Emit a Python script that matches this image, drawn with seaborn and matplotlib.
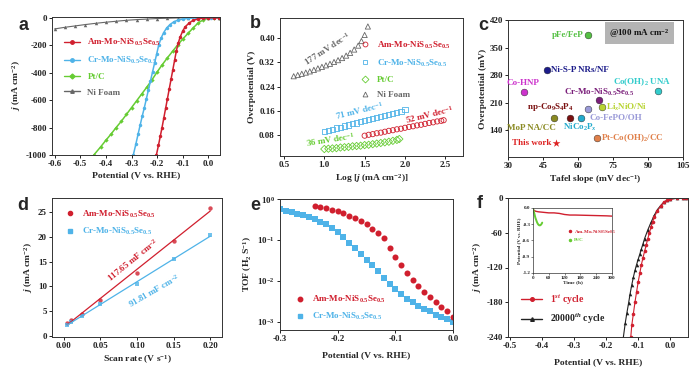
import numpy as np
import pandas as pd
import matplotlib
matplotlib.use("Agg")
import matplotlib.pyplot as plt
import seaborn as sns
from matplotlib.lines import Line2D

# ---------------- data ----------------
# panel a : polarization curves
a_am_v = [0.04, 0.02, 0.0, -0.02, -0.04, -0.06, -0.075, -0.09, -0.10, -0.11, -0.118, -0.125, -0.132, -0.139,
          -0.146, -0.153, -0.160, -0.167, -0.174, -0.181, -0.188, -0.195, -0.203]
a_am_j = [0, -0.5, -1, -3, -8, -20, -38, -65, -95, -140, -185, -240, -310, -380, -450, -520, -590, -660,
          -730, -800, -865, -930, -1000]
a_cr_v = [0.04, 0.01, -0.02, -0.05, -0.08, -0.10, -0.12, -0.135, -0.15, -0.163, -0.175, -0.185, -0.194,
          -0.202, -0.21, -0.218, -0.226, -0.234, -0.242, -0.25, -0.258, -0.266, -0.274, -0.283, -0.293]
a_cr_j = [0, 0, -1, -2, -5, -10, -18, -30, -50, -75, -110, -150, -200, -265, -330, -395, -460, -525, -590,
          -655, -715, -780, -845, -920, -1000]
a_pt_v = [0.04, 0.02, 0.0, -0.02, -0.04, -0.06, -0.08, -0.10, -0.12, -0.14, -0.16, -0.18, -0.20, -0.22,
          -0.24, -0.26, -0.28, -0.30, -0.32, -0.34, -0.36, -0.38, -0.40, -0.42, -0.447]
a_pt_j = [0, -1, -4, -15, -38, -75, -115, -155, -198, -245, -292, -342, -395, -452, -505, -555, -605, -655,
          -705, -755, -800, -848, -893, -940, -1000]
a_ni_v = [-0.6, -0.56, -0.52, -0.48, -0.44, -0.40, -0.36, -0.32, -0.28, -0.24, -0.20, -0.16, -0.12, -0.08,
          -0.04, 0.0, 0.04]
a_ni_j = [-82, -70, -60, -50, -41, -33, -26, -19, -14, -10, -6, -4, -2, -1, 0, 0, 0]

# panel b : Tafel plots
b_ni_x = [0.62, 0.67, 0.72, 0.77, 0.82, 0.87, 0.92, 0.97, 1.02, 1.07, 1.12, 1.17, 1.22, 1.27, 1.32, 1.37,
          1.42, 1.46, 1.50, 1.54]
b_ni_y = [0.274, 0.278, 0.282, 0.286, 0.290, 0.295, 0.300, 0.305, 0.310, 0.315, 0.321, 0.327, 0.334, 0.342,
          0.351, 0.362, 0.375, 0.390, 0.410, 0.438]
b_cr_x = [1.00, 1.05, 1.10, 1.15, 1.20, 1.25, 1.30, 1.35, 1.40, 1.45, 1.50, 1.55, 1.60, 1.65, 1.70, 1.75,
          1.80, 1.85, 1.90, 1.95, 2.00]
b_cr_y = [0.092, 0.096, 0.099, 0.103, 0.106, 0.110, 0.113, 0.117, 0.120, 0.124, 0.127, 0.131, 0.134, 0.138,
          0.141, 0.145, 0.148, 0.152, 0.155, 0.159, 0.163]
b_am_x = [1.50, 1.55, 1.60, 1.65, 1.70, 1.75, 1.80, 1.85, 1.90, 1.95, 2.00, 2.05, 2.10, 2.15, 2.20, 2.25,
          2.30, 2.35, 2.40, 2.45, 2.48]
b_am_y = [0.078, 0.081, 0.083, 0.086, 0.088, 0.091, 0.094, 0.096, 0.099, 0.101, 0.104, 0.107, 0.109, 0.112,
          0.114, 0.117, 0.120, 0.122, 0.125, 0.127, 0.129]
b_pt_x = [1.00, 1.05, 1.10, 1.15, 1.20, 1.25, 1.30, 1.35, 1.40, 1.45, 1.50, 1.55, 1.60, 1.65, 1.70, 1.75,
          1.80, 1.85, 1.90, 1.93]
b_pt_y = [0.034, 0.035, 0.036, 0.037, 0.039, 0.040, 0.041, 0.043, 0.044, 0.045, 0.047, 0.048, 0.050, 0.052,
          0.054, 0.056, 0.058, 0.061, 0.064, 0.067]

# panel c : comparison
c_names = ["pFe/FeP", "Ni-S-P NRs/NF", "Co-HNP", "Co(OH)$_2$ UNA", "Cr-Mo-NiS$_{0.5}$Se$_{0.5}$",
           "Li$_x$NiO/Ni", "Co-FePO/OH", "np-Co$_9$S$_4$P$_4$", "NiCo$_2$P$_x$", "MoP NA/CC",
           "Pt-Co(OH)$_2$/CC", "This work"]
c_tafel = [64.1, 46.5, 36.9, 94.2, 69.1, 70.2, 64.1, 56.4, 61.3, 49.7, 68.1, 50.5]
c_eta = [382, 293, 238, 240, 216, 198, 193, 172, 171, 171, 121, 108]
c_colors = ["#55c044", "#1c1c8a", "#cc33cc", "#33cccc", "#7a1f7a", "#b8d432", "#9a9ad8", "#7a1010",
            "#22aacc", "#8a8a22", "#e0804a", "#dd2222"]

# panel d : double-layer capacitance
d_rate = [0.005, 0.01, 0.025, 0.05, 0.10, 0.15, 0.20]
d_am = [2.7, 3.2, 4.5, 7.3, 12.7, 19.2, 25.7]
d_cr = [2.3, 2.8, 4.1, 6.4, 10.4, 15.6, 20.3]

# panel e : TOF
e_am_v = [-0.24, -0.23, -0.22, -0.21, -0.20, -0.19, -0.18, -0.17, -0.16, -0.15, -0.14, -0.13, -0.12, -0.11,
          -0.10, -0.09, -0.08, -0.07, -0.06, -0.05, -0.04, -0.03, -0.02, -0.01, 0.00]
e_am_tof = [0.68, 0.64, 0.60, 0.55, 0.50, 0.45, 0.39, 0.34, 0.29, 0.24, 0.19, 0.15, 0.11, 0.065, 0.038,
            0.024, 0.016, 0.0105, 0.0075, 0.0055, 0.0040, 0.0030, 0.0023, 0.0018, 0.0013]
e_cr_v = [-0.30, -0.29, -0.28, -0.27, -0.26, -0.25, -0.24, -0.23, -0.22, -0.21, -0.20, -0.19, -0.18, -0.17,
          -0.16, -0.15, -0.14, -0.13, -0.12, -0.11, -0.10, -0.09, -0.08, -0.07, -0.06, -0.05, -0.04, -0.03,
          -0.02, -0.01, 0.00]
e_cr_tof = [0.56, 0.52, 0.48, 0.44, 0.40, 0.36, 0.32, 0.28, 0.24, 0.20, 0.155, 0.115, 0.085, 0.062, 0.045,
            0.033, 0.024, 0.017, 0.012, 0.0085, 0.0062, 0.0047, 0.0037, 0.0030, 0.0025, 0.0021, 0.0018,
            0.0015, 0.0013, 0.00115, 0.00100]

# panel f : stability
f_1st_v = [0.05, 0.04, 0.02, 0.0, -0.01, -0.02, -0.03, -0.04, -0.05, -0.055, -0.06, -0.065, -0.07, -0.075,
           -0.08, -0.085, -0.09, -0.095, -0.10, -0.105, -0.11, -0.115, -0.12, -0.123]
f_1st_j = [0, 0, -0.5, -2, -4, -7, -14, -22, -33, -41, -50, -60, -70, -81, -92, -103, -115, -130, -145,
           -162, -180, -200, -220, -240]
f_20k_v = [0.05, 0.04, 0.02, 0.0, -0.01, -0.02, -0.03, -0.04, -0.05, -0.06, -0.07, -0.08, -0.085, -0.09,
           -0.095, -0.10, -0.105, -0.11, -0.115, -0.12, -0.125, -0.13, -0.135, -0.14, -0.146]
f_20k_j = [0, 0, -0.5, -2, -4, -7, -13, -20, -30, -42, -55, -70, -79, -88, -97, -106, -115, -125, -137,
           -150, -165, -182, -198, -215, -240]
fi_am_t = [0, 10, 20, 40, 60, 80, 100, 120, 140, 160, 200, 240, 280, 300]
fi_am_p = [-0.03, -0.06, -0.07, -0.08, -0.09, -0.09, -0.10, -0.12, -0.13, -0.13, -0.135, -0.14, -0.145, -0.15]
fi_pt_t = [0, 3, 6, 9, 12, 15, 18, 21, 24, 27, 30, 33, 35]
fi_pt_p = [-0.02, -0.06, -0.12, -0.18, -0.22, -0.26, -0.29, -0.31, -0.32, -0.32, -0.31, -0.29, -0.27]

RED = "#d01f2e"
BLUE = "#4fb3e8"
GREEN = "#66cc33"
GRAY = "#666666"

# ---------------- style ----------------
sns.set_theme(style="ticks")
plt.rcParams.update({
    "font.family": ["Liberation Serif", "DejaVu Serif"],
    "font.weight": "bold",
    "axes.labelweight": "bold",
    "font.size": 6.5,
    "mathtext.fontset": "custom",
    "mathtext.rm": "Liberation Serif:bold",
    "mathtext.it": "Liberation Serif:italic:bold",
    "mathtext.bf": "Liberation Serif:bold",
    "xtick.labelsize": 6.5,
    "ytick.labelsize": 6.5,
    "axes.labelsize": 6.8,
    "axes.linewidth": 0.7,
    "axes.edgecolor": "#333333",
    "xtick.major.size": 2.2,
    "ytick.major.size": 2.2,
    "xtick.major.width": 0.7,
    "ytick.major.width": 0.7,
    "xtick.major.pad": 1.5,
    "ytick.major.pad": 1.5,
    "xtick.color": "#222222",
    "ytick.color": "#222222",
    "axes.labelpad": 2,
    "axes.unicode_minus": False,
    "legend.fontsize": 6.5,
})

W, H = 692, 371
fig = plt.figure(figsize=(W / 100, H / 100), dpi=100)
fig.patch.set_facecolor("white")


def axpx(l, t, r, b):
    return fig.add_axes([l / W, 1 - b / H, (r - l) / W, (b - t) / H])


def letter(x, y, s):
    fig.text(x / W, 1 - y / H, s, fontfamily="Liberation Sans", fontweight="bold", fontsize=13,
             ha="center", va="center")


def line(ax, x, y, color, marker, ms=2.5, lw=1.0):
    sns.lineplot(x=x, y=y, ax=ax, color=color, marker=marker, markersize=ms, markeredgewidth=0,
                 linewidth=lw, sort=False, estimator=None)


# ---------------- panel a ----------------
ax = axpx(52, 17, 220, 155)
line(ax, a_ni_v, a_ni_j, GRAY, "^", ms=2.5, lw=0.8)
line(ax, a_pt_v, a_pt_j, GREEN, "D", ms=2.2, lw=1.1)
line(ax, a_cr_v, a_cr_j, BLUE, "o", ms=2.5, lw=1.1)
line(ax, a_am_v, a_am_j, RED, "o", ms=2.5, lw=1.1)
ax.set_xlim(-0.61, 0.045)
ax.set_ylim(-1000, 5)
ax.set_xticks([-0.6, -0.5, -0.4, -0.3, -0.2, -0.1, 0.0])
ax.set_xticklabels(["-0.6", "-0.5", "-0.4", "-0.3", "-0.2", "-0.1", "0.0"])
ax.set_yticks([0, -200, -400, -600, -800, -1000])
ax.set_xlabel("Potential (V vs. RHE)")
ax.set_ylabel("$\\mathit{j}$ (mA cm$^{-2}$)")
hs = [Line2D([], [], color=c, marker=m, ms=2.5, lw=1.0) for c, m in
      [(RED, "o"), (BLUE, "o"), (GREEN, "D"), (GRAY, "^")]]
ax.legend(hs, ["Am-Mo-NiS$_{0.5}$Se$_{0.5}$", "Cr-Mo-NiS$_{0.5}$Se$_{0.5}$", "Pt/C", "Ni Foam"],
          loc="upper left", bbox_to_anchor=(0.05, 0.88), frameon=False, handlelength=1.8,
          labelspacing=0.75, labelcolor=[RED, BLUE, GREEN, GRAY], borderaxespad=0)
letter(24, 25, "a")

# ---------------- panel b ----------------
ax = axpx(280, 18, 463, 156)
sc = dict(s=14, linewidth=0.6)
sns.scatterplot(x=b_ni_x, y=b_ni_y, ax=ax, marker="^", fc="none", ec=GRAY, **sc)
sns.scatterplot(x=b_cr_x, y=b_cr_y, ax=ax, marker="s", fc="none", ec=BLUE, **sc)
sns.scatterplot(x=b_am_x, y=b_am_y, ax=ax, marker="o", fc="none", ec=RED, **sc)
sns.scatterplot(x=b_pt_x, y=b_pt_y, ax=ax, marker="D", fc="none", ec=GREEN, **sc)
ax.set_xlim(0.45, 2.72)
ax.set_ylim(0.011, 0.466)
ax.set_xticks([0.5, 1.0, 1.5, 2.0, 2.5])
ax.set_yticks([0.08, 0.16, 0.24, 0.32, 0.40])
ax.set_yticklabels(["0.08", "0.16", "0.24", "0.32", "0.40"])
ax.set_xlabel("Log [$\\mathit{j}$ (mA cm$^{-2}$)]")
ax.set_ylabel("Overpotential (V)")
ax.text(1.04, 0.366, "177 mV dec$^{-1}$", color=GRAY, rotation=33, ha="center", va="center", fontsize=6.5)
ax.text(1.44, 0.160, "71 mV dec$^{-1}$", color=BLUE, rotation=14, ha="center", va="center", fontsize=6.5)
ax.text(2.31, 0.147, "52 mV dec$^{-1}$", color=RED, rotation=14, ha="center", va="center", fontsize=6.5)
ax.text(1.08, 0.064, "36 mV dec$^{-1}$", color=GREEN, rotation=9, ha="center", va="center", fontsize=6.5)
hs = [Line2D([], [], ls="", marker=m, mfc="none", mec=c, ms=3.5, mew=0.6) for c, m in
      [(RED, "o"), (BLUE, "s"), (GREEN, "D"), (GRAY, "^")]]
ax.legend(hs, ["Am-Mo-NiS$_{0.5}$Se$_{0.5}$", "Cr-Mo-NiS$_{0.5}$Se$_{0.5}$", "Pt/C", "Ni Foam"],
          loc="upper left", bbox_to_anchor=(0.42, 0.87), frameon=False, handlelength=1.0,
          labelspacing=0.75, labelcolor=[RED, BLUE, GREEN, GRAY], borderaxespad=0)
letter(255, 23, "b")

# ---------------- panel c ----------------
ax = axpx(508, 20, 683, 157)
for i, (n, xv, yv, col) in enumerate(zip(c_names, c_tafel, c_eta, c_colors)):
    if n == "This work":
        sns.scatterplot(x=[xv], y=[yv], ax=ax, marker="*", s=35, color=col, linewidth=0)
    else:
        sns.scatterplot(x=[xv], y=[yv], ax=ax, marker="o", s=24, color=col, ec="#222222", linewidth=0.3)
lab_pos = {
    "pFe/FeP": (62.5, 382, "right"),
    "Ni-S-P NRs/NF": (48.5, 293, "left"),
    "Co-HNP": (36.2, 260, "center"),
    "Co(OH)$_2$ UNA": (87.5, 261, "center"),
    "Cr-Mo-NiS$_{0.5}$Se$_{0.5}$": (69.0, 236, "center"),
    "Li$_x$NiO/Ni": (72.0, 198, "left"),
    "Co-FePO/OH": (65.0, 172, "left"),
    "np-Co$_9$S$_4$P$_4$": (48.0, 199, "center"),
    "NiCo$_2$P$_x$": (61.0, 146, "center"),
    "MoP NA/CC": (40.0, 146, "center"),
    "Pt-Co(OH)$_2$/CC": (70.0, 121, "left"),
    "This work": (48.8, 108, "right"),
}
for n, col in zip(c_names, c_colors):
    xv, yv, ha = lab_pos[n]
    ax.text(xv, yv, n, color=col, ha=ha, va="center", fontsize=6.5)
ax.text(0.75, 0.905, "@100 mA cm$^{-2}$", transform=ax.transAxes, ha="center", va="center", fontsize=6.5,
        color="#111111", bbox=dict(boxstyle="square,pad=0.45", fc="#b4b4b4", ec="none"))
ax.set_xlim(30, 105)
ax.set_ylim(72, 420)
ax.set_xticks([30, 45, 60, 75, 90, 105])
ax.set_yticks([140, 210, 280, 350, 420])
ax.set_xlabel("Tafel slope (mV dec$^{-1}$)")
ax.set_ylabel("Overpotential (mV)")
letter(483, 25, "c")

# ---------------- panel d ----------------
ax = axpx(52, 198, 222, 337)
sns.regplot(x=d_rate, y=d_am, ax=ax, ci=None, color=RED, scatter_kws=dict(s=10, linewidths=0),
            line_kws=dict(lw=0.9))
sns.regplot(x=d_rate, y=d_cr, ax=ax, ci=None, color=BLUE, marker="s",
            scatter_kws=dict(s=9, linewidths=0), line_kws=dict(lw=0.9))
ax.set_xlim(-0.016, 0.216)
ax.set_ylim(-0.2, 27.8)
ax.set_xticks([0.0, 0.05, 0.10, 0.15, 0.20])
ax.set_xticklabels(["0.00", "0.05", "0.10", "0.15", "0.20"])
ax.set_yticks([0, 5, 10, 15, 20, 25])
ax.set_xlabel("Scan rate (V s$^{-1}$)")
ax.set_ylabel("$\\mathit{j}$ (mA cm$^{-2}$)")
ax.text(0.094, 15.3, "117.65 mF cm$^{-2}$", color=RED, rotation=39, ha="center", va="center", fontsize=6.5)
ax.text(0.124, 9.2, "91.81 mF cm$^{-2}$", color=BLUE, rotation=30, ha="center", va="center", fontsize=6.5)
hs = [Line2D([], [], ls="", marker=m, mfc=c, mec=c, ms=3) for c, m in [(RED, "o"), (BLUE, "s")]]
ax.legend(hs, ["Am-Mo-NiS$_{0.5}$Se$_{0.5}$", "Cr-Mo-NiS$_{0.5}$Se$_{0.5}$"], loc="upper left",
          bbox_to_anchor=(0.06, 0.95), frameon=False, handlelength=1.0, labelspacing=0.7,
          labelcolor=[RED, BLUE], borderaxespad=0)
letter(23, 205, "d")

# ---------------- panel e ----------------
ax = axpx(280, 199, 453, 330)
sns.scatterplot(x=e_cr_v, y=e_cr_tof, ax=ax, marker="s", s=15, color=BLUE, linewidth=0)
sns.scatterplot(x=e_am_v, y=e_am_tof, ax=ax, marker="o", s=19, color=RED, linewidth=0)
ax.set_yscale("log")
ax.set_xlim(-0.3, 0.0)
ax.set_ylim(10 ** -3.2, 1.0)
ax.set_xticks([-0.3, -0.2, -0.1, 0.0])
ax.set_xticklabels(["-0.3", "-0.2", "-0.1", "0.0"])
ax.set_yticks([1e-3, 1e-2, 1e-1, 1])
ax.set_yticklabels(["10$^{-3}$", "10$^{-2}$", "10$^{-1}$", "10$^{0}$"])
ax.minorticks_off()
ax.set_xlabel("Potential (V vs. RHE)", labelpad=6)
ax.set_ylabel("TOF (H$_2$ S$^{-1}$)")
hs = [Line2D([], [], ls="", marker=m, mfc=c, mec=c, ms=3.2) for c, m in [(RED, "o"), (BLUE, "s")]]
ax.legend(hs, ["Am-Mo-NiS$_{0.5}$Se$_{0.5}$", "Cr-Mo-NiS$_{0.5}$Se$_{0.5}$"], loc="lower left",
          bbox_to_anchor=(0.07, 0.03), frameon=False, handlelength=1.0, labelspacing=0.7,
          labelcolor=[RED, BLUE], borderaxespad=0)
letter(255, 205, "e")

# ---------------- panel f ----------------
ax = axpx(508, 198, 688, 337)
line(ax, f_20k_v, f_20k_j, "#222222", "^", ms=2.6, lw=0.8)
line(ax, f_1st_v, f_1st_j, RED, "o", ms=2.6, lw=0.8)
ax.set_xlim(-0.505, 0.055)
ax.set_ylim(-240, 0)
ax.set_xticks([-0.5, -0.4, -0.3, -0.2, -0.1, 0.0])
ax.set_xticklabels(["-0.5", "-0.4", "-0.3", "-0.2", "-0.1", "0.0"])
ax.set_yticks([0, -60, -120, -180, -240])
ax.set_xlabel("Potential (V vs. RHE)", labelpad=6)
ax.set_ylabel("$\\mathit{j}$ (mA cm$^{-2}$)")
hs = [Line2D([], [], color=RED, marker="o", ms=2.6, lw=1.0),
      Line2D([], [], color="#222222", marker="^", ms=2.6, lw=1.0)]
ax.legend(hs, ["1$^{st}$ cycle", "20000$^{th}$ cycle"], loc="lower left", bbox_to_anchor=(0.05, 0.05),
          frameon=False, handlelength=2.2, labelspacing=0.5, labelcolor=[RED, "#222222"],
          borderaxespad=0, fontsize=7)
letter(480, 203, "f")

# inset
ai = axpx(533, 208, 612, 273)
sns.lineplot(x=fi_am_t, y=fi_am_p, ax=ai, color=RED, linewidth=1.0, sort=False, estimator=None)
sns.lineplot(x=fi_pt_t, y=fi_pt_p, ax=ai, color=GREEN, linewidth=1.4, sort=False, estimator=None)
ai.set_xlim(0, 300)
ai.set_ylim(-1.2, 0.0)
ai.set_xticks([0, 60, 120, 180, 240, 300])
ai.set_yticks([0.0, -0.3, -0.6, -0.9, -1.2])
ai.set_yticklabels(["0.0", "-0.3", "-0.6", "-0.9", "-1.2"])
ai.tick_params(labelsize=3.6, length=1.2, width=0.4, pad=0.8)
for s in ai.spines.values():
    s.set_linewidth(0.5)
ai.set_xlabel("Time (h)", fontsize=3.8, labelpad=0.5)
ai.set_ylabel("Potential (V vs. RHE)", fontsize=3.6, labelpad=0.5)
hs = [Line2D([], [], ls="", marker="o", color=RED, ms=1.5), Line2D([], [], ls="", marker="o", color=GREEN, ms=1.5)]
ai.legend(hs, ["Am-Mo-NiS$_{0.5}$Se$_{0.5}$", "Pt/C"], loc="upper left", bbox_to_anchor=(0.42, 0.72),
          frameon=False, handlelength=0.8, labelspacing=0.4, labelcolor=[RED, GREEN], fontsize=3.6,
          borderaxespad=0, handletextpad=0.4)

fig.savefig("out.png", dpi=100, facecolor="white")
